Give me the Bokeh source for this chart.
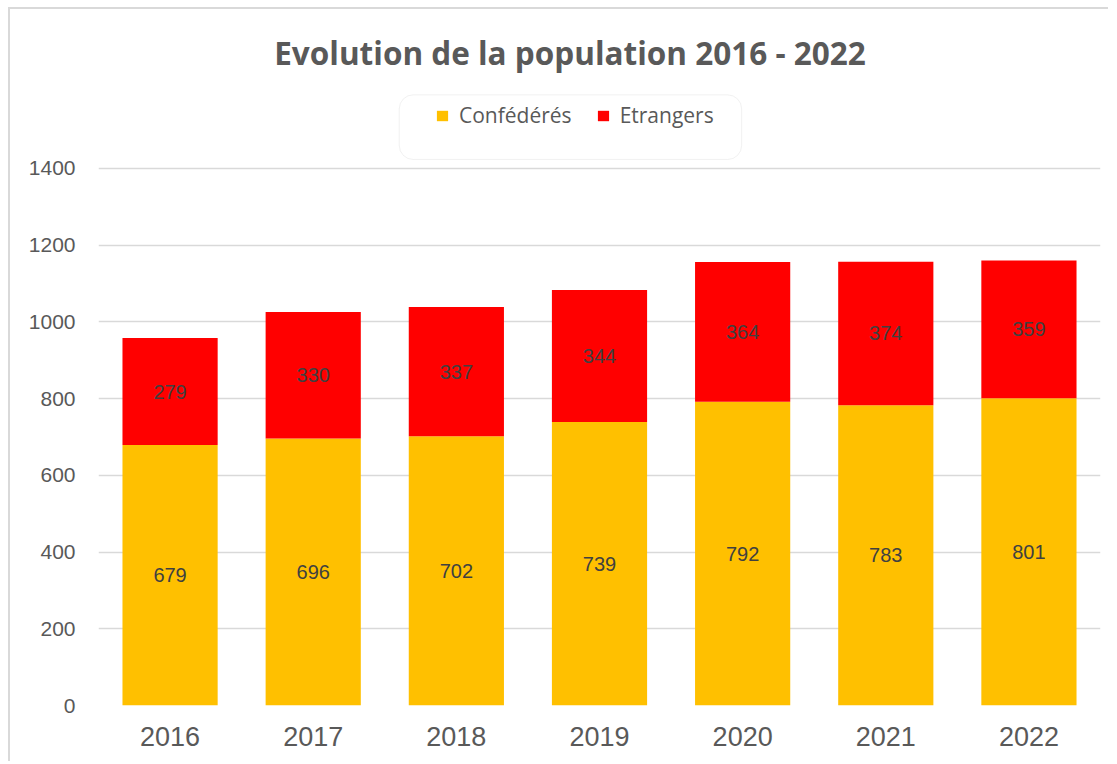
from bokeh.plotting import figure
from bokeh.models import (ColumnDataSource, FixedTicker, Range1d, FactorRange, Legend,
                          LegendItem, LabelSet, Label, BoxAnnotation)
from bokeh.core.properties import value
from bokeh.embed import file_html
from bokeh.resources import INLINE

years = ["2016", "2017", "2018", "2019", "2020", "2021", "2022"]
confederes = [679, 696, 702, 739, 792, 783, 801]
etrangers = [279, 330, 337, 344, 364, 374, 359]
y_ticks = [0, 200, 400, 600, 800, 1000, 1200, 1400]
series_names = ["Confédérés", "Etrangers"]
title_text = "Evolution de la population 2016 - 2022"

src = ColumnDataSource(dict(
    year=years,
    conf=confederes,
    etr=etrangers,
    conf_mid=[c / 2 for c in confederes],
    etr_mid=[c + e / 2 for c, e in zip(confederes, etrangers)],
    conf_txt=[str(c) for c in confederes],
    etr_txt=[str(e) for e in etrangers],
))

p = figure(x_range=FactorRange(*years), y_range=Range1d(0, 1814.5),
           width=1100, height=754, output_backend="svg", toolbar_location=None,
           min_border_left=88, min_border_right=10, min_border_top=0, min_border_bottom=58)
p.outline_line_color = None
p.background_fill_color = "white"
p.border_fill_color = "white"
p.styles = {"margin-left": "8px", "margin-top": "7px",
            "border-top": "2px solid #d9d9d9", "border-left": "2px solid #d9d9d9"}

rs = p.vbar_stack(["conf", "etr"], x="year", width=0.665, color=["#FFC000", "#FF0000"],
                  line_color=None, source=src)

# axes
p.yaxis.ticker = FixedTicker(ticks=y_ticks)
for ax in (p.xaxis, p.yaxis):
    ax.axis_line_color = None
    ax.major_tick_line_color = None
    ax.minor_tick_line_color = None
    ax.major_tick_out = 0
    ax.major_tick_in = 0
    ax.major_label_text_color = "#595959"
    ax.major_label_text_font = "Liberation Sans"
p.yaxis.major_label_text_font_size = "21px"
p.yaxis.major_label_standoff = 23
p.xaxis.major_label_text_font_size = "27px"
p.xaxis.major_label_standoff = 21

p.xgrid.grid_line_color = None
p.ygrid.grid_line_color = "#d9d9d9"
p.ygrid.grid_line_width = 1.5

# data labels
for col, txt in (("conf_mid", "conf_txt"), ("etr_mid", "etr_txt")):
    p.add_layout(LabelSet(x="year", y=col, text=txt, source=src, text_align="center",
                          text_baseline="middle", text_font=value("Liberation Sans"),
                          text_font_size="20px", text_color="#404040"))

# legend box
box = BoxAnnotation(left=2.101, right=4.493, bottom=1423.5, top=1592, fill_color="white",
                    fill_alpha=1, line_color="#cfcfcf", line_width=1, border_radius=14)
p.add_layout(box)

legend = Legend(items=[LegendItem(label=series_names[0], renderers=[rs[0]]),
                       LegendItem(label=series_names[1], renderers=[rs[1]])],
                orientation="horizontal", location=(337, 576), padding=0, margin=0,
                spacing=24, label_standoff=10, glyph_width=14, glyph_height=13,
                border_line_color=None, background_fill_alpha=0,
                label_text_font="Open Sans", label_text_font_size="21px",
                label_text_color="#595959")
p.add_layout(legend, "center")

p.add_layout(Label(x=471.5, y=653, x_units="screen", y_units="screen", text=title_text,
                   text_align="center", text_baseline="middle", text_font="Open Sans",
                   text_font_style="bold", text_font_size="31.5px", text_color="#595959"))

open("out.html", "w").write(file_html(p, INLINE))
